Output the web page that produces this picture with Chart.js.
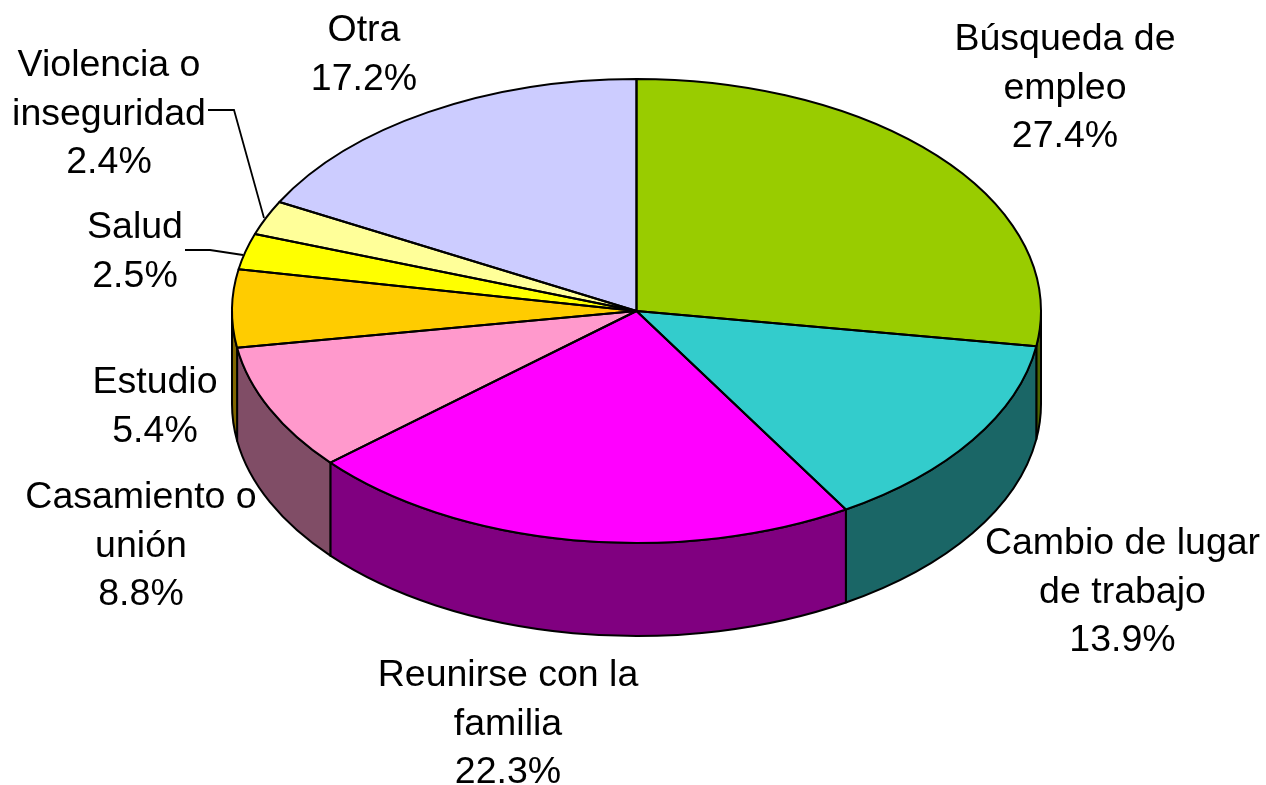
<!DOCTYPE html>
<html><head><meta charset="utf-8">
<style>html,body{margin:0;padding:0;background:#fff;overflow:hidden}canvas{display:block}</style>
<script src="https://cdn.jsdelivr.net/npm/chart.js@4/dist/chart.umd.min.js"></script>
</head><body><canvas id="c" width="1266" height="785"></canvas>
<script>
const categories = ["Búsqueda de empleo","Cambio de lugar de trabajo","Reunirse con la familia","Casamiento o unión","Estudio","Salud","Violencia o inseguridad","Otra"];
const shares = [27.4,13.9,22.3,8.8,5.4,2.5,2.4,17.2];
const topColors = ["#99CC00","#33CCCC","#FF00FF","#FF99CC","#FFCC00","#FFFF00","#FFFF99","#CCCCFF"];
const wallColors = ["#4D6600","#1A6666","#800080","#804D66","#806600","#808000","#80804D","#666680"];
const labelLines = [["Búsqueda de","empleo","27.4%"],["Cambio de lugar","de trabajo","13.9%"],["Reunirse con la","familia","22.3%"],["Casamiento o","unión","8.8%"],["Estudio","5.4%"],["Salud","2.5%"],["Violencia o","inseguridad","2.4%"],["Otra","17.2%"]];
const labelPlace = [[1065,50],[1122.5,554],[508,686],[141,508],[155,393],[135,238],[109,76],[364,41]];
const leaders = [[[185,250],[210,250],[243,255]],[[208,110],[234,110],[264,218]]];
const RX=404.5, RY=232, DEPTH=93, LINE=2;

const pie3d = {
  id:'pie3d',
  beforeDatasetsDraw(chart){
    const ctx=chart.ctx;
    ctx.save();ctx.lineWidth=LINE;ctx.strokeStyle='#000';ctx.lineJoin='round';
    chart.getDatasetMeta(0).data.forEach((arc,i)=>{
      const p=arc.getProps(['x','y','startAngle','endAngle']);
      const a=Math.max(p.startAngle,0), b=Math.min(p.endAngle,Math.PI);
      if(b<=a) return;
      ctx.beginPath();
      ctx.ellipse(p.x,p.y,RX,RY,0,a,b);
      ctx.lineTo(p.x+RX*Math.cos(b),p.y+RY*Math.sin(b)+DEPTH);
      ctx.ellipse(p.x,p.y+DEPTH,RX,RY,0,b,a,true);
      ctx.closePath();
      ctx.fillStyle=wallColors[i];ctx.fill();ctx.stroke();
    });
    ctx.restore();
  },
  beforeDatasetDraw(chart){
    const ctx=chart.ctx, arc=chart.getDatasetMeta(0).data[0];
    const p=arc.getProps(['x','y','outerRadius']);
    ctx.save();
    ctx.translate(p.x,p.y);ctx.scale(RX/p.outerRadius,RY/p.outerRadius);ctx.translate(-p.x,-p.y);
  },
  afterDatasetDraw(chart){
    const ctx=chart.ctx;
    ctx.restore();
    ctx.save();ctx.lineWidth=LINE;ctx.strokeStyle='#000';ctx.lineJoin='round';
    chart.getDatasetMeta(0).data.forEach(arc=>{
      const p=arc.getProps(['x','y','startAngle','endAngle']);
      ctx.beginPath();
      ctx.moveTo(p.x,p.y);
      ctx.ellipse(p.x,p.y,RX,RY,0,p.startAngle,p.endAngle);
      ctx.closePath();ctx.stroke();
    });
    ctx.restore();
  },
  afterDraw(chart){
    const ctx=chart.ctx;
    ctx.save();
    ctx.lineWidth=1.8;ctx.strokeStyle='#000';
    leaders.forEach(l=>{ctx.beginPath();l.forEach((q,i)=>i?ctx.lineTo(q[0],q[1]):ctx.moveTo(q[0],q[1]));ctx.stroke();});
    ctx.fillStyle='#000';ctx.font='37.5px "Liberation Sans"';ctx.textAlign='center';ctx.textBaseline='alphabetic';
    labelLines.forEach((lines,i)=>lines.forEach((t,j)=>ctx.fillText(t,labelPlace[i][0],labelPlace[i][1]+j*48.5)));
    ctx.restore();
  }
};

new Chart(document.getElementById('c'),{
  type:'pie',
  data:{labels:categories,datasets:[{data:shares,backgroundColor:topColors,borderWidth:0}]},
  options:{responsive:false,animation:false,
    layout:{padding:{left:7,right:0,top:0,bottom:163}},
    plugins:{legend:{display:false},tooltip:{enabled:false}}},
  plugins:[pie3d]
});
</script></body></html>
